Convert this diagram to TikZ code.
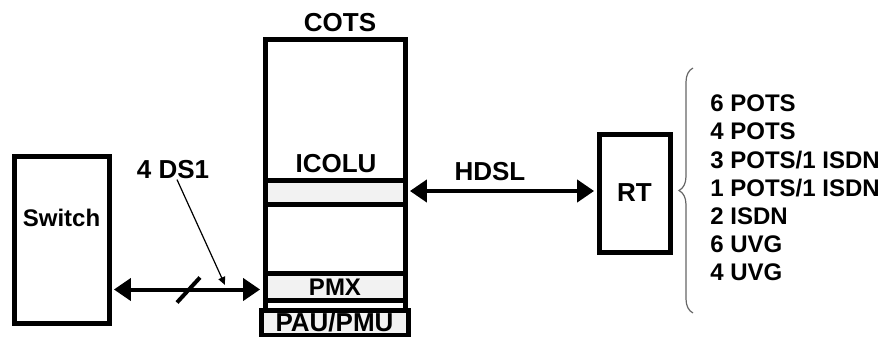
\documentclass[tikz,border=0pt]{standalone}
\usepackage{fontspec}
\setmainfont{Liberation Sans}
\usetikzlibrary{arrows.meta, positioning, decorations.pathreplacing}

\begin{document}
\begin{tikzpicture}[x=0.5pt, y=-0.5pt,
    font=\fontsize{13}{15}\selectfont\bfseries,
    unit/.style={draw, line width=2.5pt, inner sep=0pt},
    band/.style={unit, fill=black!5},
    lbl/.style={inner sep=0pt},
    small/.style={font=\fontsize{12}{14}\selectfont\bfseries},
    link/.style={line width=2pt, {Triangle[length=8.5pt,width=11pt]}-{Triangle[length=8.5pt,width=11pt]},
        shorten <=1.2pt, shorten >=1.2pt},
    ptr/.style={line width=0.6pt, -{Triangle[length=4pt,width=3.5pt]}},
    brc/.style={decorate, decoration={brace, amplitude=7pt}, line width=0.6pt, black!60}]
    \useasboundingbox (0,0) rectangle (880,337);

    % Switch on the left
    \node[unit, minimum width=47.5pt, minimum height=83.5pt] (switch) at (61.5,239.5) {};
    \node[lbl, small] (switchlbl) at (61.5,218) {Switch};

    % COTS shelf with its cards
    \node[lbl] (cotslbl) at (340,23) {COTS};
    \node[unit, minimum width=70pt, minimum height=135.5pt] (cots) at (335,174.5) {};
    \node[lbl] (icolulbl) at (336,163.5) {ICOLU};
    \node[band, minimum width=70pt, minimum height=12pt] (icolu) at (335,192) {};
    \node[band, small, minimum width=70pt, minimum height=13.5pt] (pmx) at (335,287) {PMX};
    \node[band, minimum width=73.5pt, minimum height=12.5pt] (pau) at (334.5,322.5) {PAU/PMU};

    % RT on the right
    \node[unit, minimum width=35.5pt, minimum height=59pt] (rt) at (634.5,193) {RT};

    % DS1 link with slash and pointer
    \draw[link] ([yshift=-1.25pt]switch.east |- pmx.west) -- ([yshift=-1.25pt]pmx.west);
    \coordinate (cut) at (188.5,290);
    \draw[line width=2pt] ([shift={(-11.5,12.5)}]cut) -- ([shift={(11.5,-12.5)}]cut);
    \node[lbl] (ds1) at (173,170) {4 DS1};
    \coordinate (ds1tip) at (225,285);
    \draw[ptr] ([xshift=2pt]ds1.south) -- (ds1tip);

    % HDSL link
    \draw[link] ([yshift=0.5pt]icolu.east) -- ([yshift=0.5pt]icolu.east -| rt.west);
    \node[lbl] (hdsl) at (490,172) {HDSL};

    % services served by the RT
    \draw[brc] (693,313) -- (693,68);
    \foreach \svc [count=\i] in {6 POTS, 4 POTS, 3 POTS/1 ISDN, 1 POTS/1 ISDN, 2 ISDN, 6 UVG, 4 UVG} {
        \node[lbl, small, anchor=base west] (svc\i) at (710, 84+28*\i) {\svc};
    }
\end{tikzpicture}
\end{document}
